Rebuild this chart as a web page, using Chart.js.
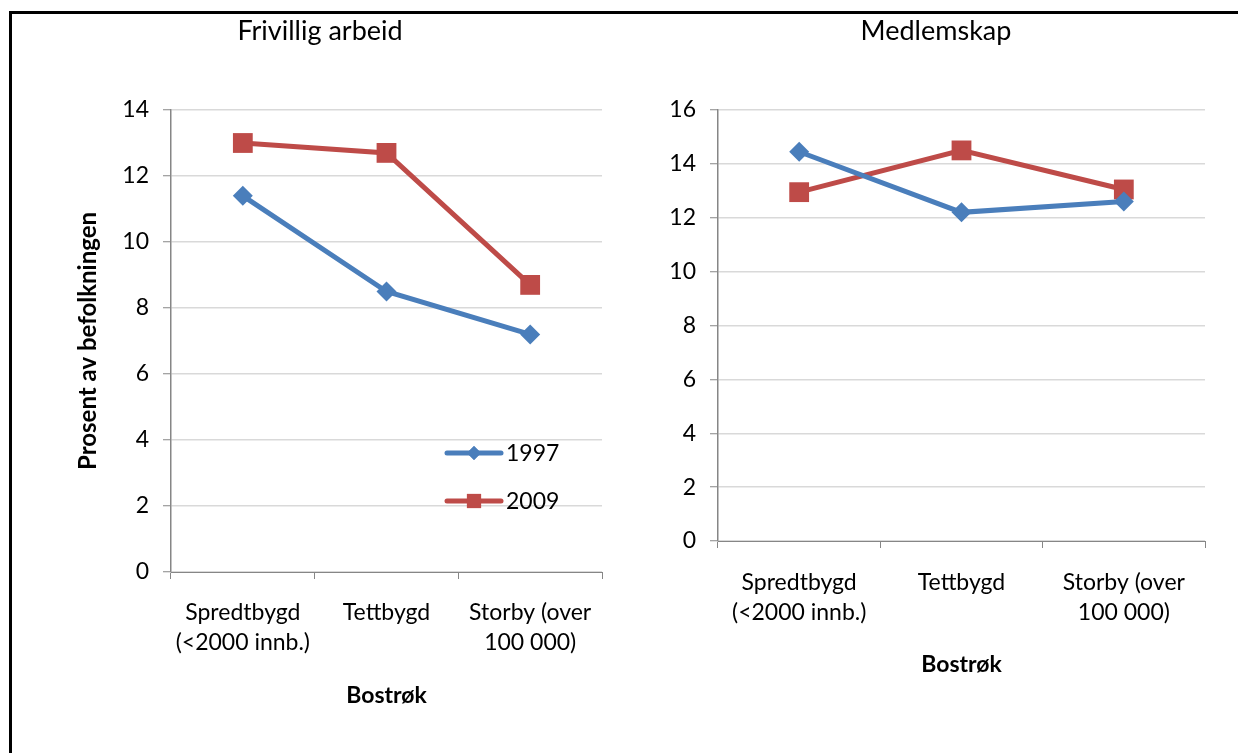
<!DOCTYPE html>
<html>
<head>
<meta charset="utf-8">
<script src="https://cdn.jsdelivr.net/npm/chart.js@4.4.1/dist/chart.umd.min.js"></script>
<style>
  html, body { margin: 0; padding: 0; background: #fff; width: 1238px; height: 753px; overflow: hidden; }
  #frame { position: absolute; left: 9px; top: 11px; width: 1240px; height: 760px; border-left: 3px solid #000; border-top: 3px solid #000; }
  #c1 { position: absolute; left: 0; top: 0; }
  #c2 { position: absolute; left: 620px; top: 0; }
</style>
</head>
<body>
<div id="frame"></div>
<canvas id="c1" width="620" height="753"></canvas>
<canvas id="c2" width="618" height="753"></canvas>
<script>
// ---- data ----
const categories = [["Spredtbygd", "(<2000 innb.)"], "Tettbygd", ["Storby (over", "100 000)"]];
const seriesNames = ["1997", "2009"];
const frivillig1997 = [11.4, 8.5, 7.2];
const frivillig2009 = [13.0, 12.7, 8.7];
const medlem1997 = [14.45, 12.2, 12.6];
const medlem2009 = [12.95, 14.5, 13.05];
const titleLeft = "Frivillig arbeid";
const titleRight = "Medlemskap";
const yTitle = "Prosent av befolkningen";
const xTitle = "Bostrøk";

const FONT = "Lato, 'Open Sans', sans-serif";
const BLUE = "#4a7ebb";
const RED = "#be4b48";
const GRID = "#d9d9d9";
const AXIS = "#868686";

function ds(label, data, color, style, radius) {
  return {
    label, data,
    borderColor: color, backgroundColor: color,
    borderWidth: 5, tension: 0,
    pointStyle: style, pointRadius: radius, pointHoverRadius: radius,
    pointBorderWidth: 0, pointBackgroundColor: color, pointBorderColor: color
  };
}

const titlePlugin = {
  id: 'chartTitleText',
  afterDraw(chart, args, opts) {
    const ctx = chart.ctx;
    ctx.save();
    ctx.fillStyle = '#000';
    ctx.font = opts.font;
    ctx.textAlign = 'center';
    ctx.textBaseline = 'middle';
    ctx.fillText(opts.text, opts.x, opts.y);
    ctx.restore();
  }
};

const legendPlugin = {
  id: 'innerLegend',
  afterDraw(chart, args, opts) {
    if (!opts.show) return;
    const ctx = chart.ctx;
    chart.data.datasets.forEach((d, i) => {
      const y = opts.y[i];
      const cx = (opts.x1 + opts.x2) / 2;
      ctx.save();
      ctx.strokeStyle = d.borderColor;
      ctx.lineWidth = 5;
      ctx.lineCap = 'round';
      ctx.beginPath();
      ctx.moveTo(opts.x1, y);
      ctx.lineTo(opts.x2, y);
      ctx.stroke();
      ctx.fillStyle = d.borderColor;
      ctx.strokeStyle = d.borderColor;
      Chart.helpers.drawPoint(ctx, { pointStyle: d.pointStyle, radius: opts.markerRadius[i], rotation: 0, borderWidth: 0 }, cx, y);
      ctx.fill();
      ctx.fillStyle = '#000';
      ctx.font = opts.font;
      ctx.textAlign = 'left';
      ctx.textBaseline = 'middle';
      ctx.fillText(d.label, opts.x2 + 5, y + 1);
      ctx.restore();
    });
  }
};

function makeChart(canvasId, d1, d2, cfg) {
  return new Chart(document.getElementById(canvasId), {
    type: 'line',
    data: {
      labels: categories,
      datasets: [ds(seriesNames[0], d1, BLUE, 'rectRot', 10), ds(seriesNames[1], d2, RED, 'rect', 14)]
    },
    options: {
      responsive: false,
      animation: false,
      events: [],
      layout: { padding: { top: 110, left: 0, right: cfg.right, bottom: 0 } },
      plugins: {
        legend: { display: false },
        tooltip: { enabled: false },
        chartTitleText: { text: cfg.title, x: cfg.titleX, y: 31, font: "27px " + FONT },
        innerLegend: cfg.legend
      },
      scales: {
        x: {
          offset: true,
          grid: { offset: true, drawOnChartArea: false, drawTicks: true, tickLength: 7, tickColor: AXIS, tickWidth: 1 },
          border: { color: AXIS, width: 1 },
          ticks: { color: '#000', font: { family: FONT, size: 23, lineHeight: '30px' }, padding: cfg.xTickPad, maxRotation: 0, autoSkip: false },
          title: { display: true, text: xTitle, color: '#000', font: { family: FONT, size: 23, weight: 'bold', lineHeight: 1.2 }, padding: { top: 0, bottom: cfg.xTitlePad } },
          afterFit(s) { s.height = cfg.xHeight; }
        },
        y: {
          min: 0, max: cfg.yMax,
          ticks: { stepSize: 2, color: '#000', font: { family: FONT, size: 23 }, padding: 14 },
          grid: { color: GRID, lineWidth: 1.5, drawTicks: true, tickLength: 8, tickColor: AXIS, tickWidth: 1 },
          border: { color: AXIS, width: 1.5 },
          title: cfg.yTitle,
          afterFit(s) { s.width = cfg.yWidth; }
        }
      }
    },
    plugins: [titlePlugin, legendPlugin]
  });
}

makeChart('c1', frivillig1997, frivillig2009, {
  title: titleLeft, titleX: 320, right: 18, yMax: 14, yWidth: 171,
  xHeight: 753 - 572, xTickPad: 19, xTitlePad: 44,
  yTitle: { display: true, text: yTitle, color: '#000', font: { family: FONT, size: 24, weight: 'bold', lineHeight: 1.2 }, padding: { top: 73.5, bottom: 0 } },
  legend: { show: true, x1: 447, x2: 501, y: [453, 501], markerRadius: [7, 10], font: "23px " + FONT }
});

makeChart('c2', medlem1997, medlem2009, {
  title: titleRight, titleX: 316, right: 33, yMax: 16, yWidth: 98,
  xHeight: 753 - 541, xTickPad: 20, xTitlePad: 75,
  yTitle: { display: false },
  legend: { show: false }
});
</script>
</body>
</html>
